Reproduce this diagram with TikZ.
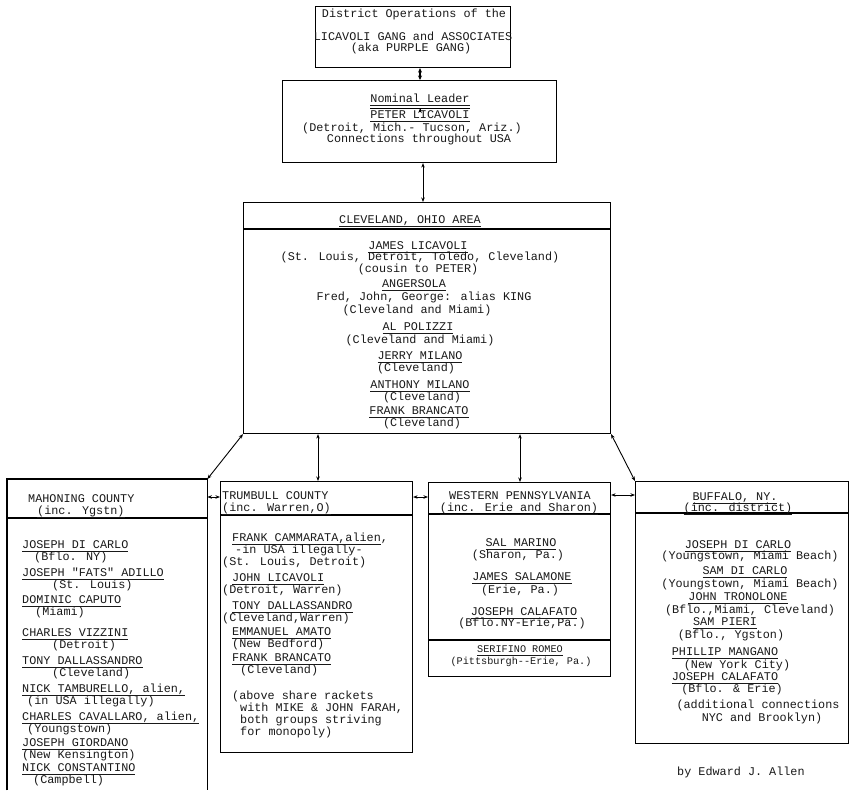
\documentclass[tikz,border=0pt]{standalone}
\usepackage{fontspec}
\setmainfont{Liberation Mono}[Ligatures=TeXOff]
\usetikzlibrary{arrows.meta}
\newcommand\ul[1]{\setbox0\hbox{#1}\rlap{\rule[-2.8pt]{\wd0}{0.7pt}}\box0}
\begin{document}
\begin{tikzpicture}[x=1pt,y=-1pt,
  frame/.style={draw=black, line width=1.1pt, inner sep=0pt, anchor=north west},
  hollow/.style={inner sep=0pt, anchor=north west},
  lbl/.style={inner sep=0pt, font=\fontsize{11.8}{12}\selectfont, text=black!90, anchor=mid},
  lw/.style={lbl, anchor=mid west},
  sml/.style={lbl, font=\fontsize{10.2}{11}\selectfont},
  edge/.style={line width=1.1pt},
  link/.style={line width=0.9pt, {Stealth[length=4.5pt,width=3.5pt]}-{Stealth[length=4.5pt,width=3.5pt]}},
  boldlink/.style={line width=1.6pt, {Stealth[length=4.5pt,width=4pt]}-{Stealth[length=4.5pt,width=4pt]}},
  onelink/.style={line width=0.9pt, -{Stealth[length=4.5pt,width=3.5pt]}}
]
\useasboundingbox[fill=white] (0,0) rectangle (851,790);

% ---- boxes ----
\node[frame, minimum width=195pt, minimum height=61pt] (top) at (315,6) {};
\node[frame, minimum width=274pt, minimum height=82pt] (leader) at (282,80) {};
\node[frame, minimum width=367pt, minimum height=231pt] (clev) at (243,202) {};
\node[hollow, minimum width=200pt, minimum height=311pt] (mah) at (7,479) {};
\node[frame, minimum width=192pt, minimum height=271pt] (trum) at (220,481) {};
\node[frame, minimum width=182pt, minimum height=194pt] (west) at (428,482) {};
\node[frame, minimum width=213pt, minimum height=262pt] (buff) at (635,481) {};

\draw[edge] (mah.south west) -- (mah.north west) -- (mah.north east) -- (mah.south east);

% dividers
\draw[edge] (clev.west |- 0,229) -- (clev.east |- 0,229);
\draw[edge] (mah.west |- 0,518) -- (mah.east |- 0,518);
\draw[edge] (trum.west |- 0,515) -- (trum.east |- 0,515);
\draw[edge] (west.west |- 0,514) -- (west.east |- 0,514);
\draw[edge] (west.west |- 0,640) -- (west.east |- 0,640);
\draw[edge] (buff.west |- 0,513) -- (buff.east |- 0,513);

% ---- top box ----
\node[lbl] (t1) at (414,15) {District Operations of the};
\node[lbl] (t2) at (413,38) {LICAVOLI GANG and ASSOCIATES};
\node[lbl] (t3) at (411,49) {(aka PURPLE GANG)};

% ---- leader ----
\node[lbl] (l1) at (420,100) {\ul{Nominal Leader}};
\node[lbl] (l2) at (420,116) {\ul{PETER LICAVOLI}};
\draw[line width=0.7pt] ([yshift=2pt]l2.north west) -- ([yshift=2pt]l2.north east);
\node[lbl] (l3) at (412,129) {(Detroit, Mich.- Tucson, Ariz.)};
\node[lbl] (l4) at (419,140) {Connections throughout USA};
\draw[onelink] ([yshift=-3pt]l1.south) -- ([yshift=2pt]l2.north);

% ---- Cleveland ----
\node[lbl] (c0) at (410,221) {\ul{CLEVELAND, OHIO AREA}};
\node[lbl] (c1) at (418,247) {\ul{JAMES LICAVOLI}};
\node[lbl] (c2) at (420,258) {(St. Louis, Detroit, Toledo, Cleveland)};
\node[lbl] (c3) at (418,270) {(cousin to PETER)};
\node[lbl] (c4) at (414,285) {\ul{ANGERSOLA}};
\node[lbl] (c5) at (424,298) {Fred, John, George: alias KING};
\node[lbl] (c6) at (417,311) {(Cleveland and Miami)};
\node[lbl] (c7) at (418,328) {\ul{AL POLIZZI}};
\node[lbl] (c8) at (420,341) {(Cleveland and Miami)};
\node[lbl] (c9) at (420,357) {\ul{JERRY MILANO}};
\node[lbl] (c10) at (416,369) {(Cleveland)};
\node[lbl] (c11) at (420,386) {\ul{ANTHONY MILANO}};
\node[lbl] (c12) at (422,398) {(Cleveland)};
\node[lbl] (c13) at (419,412) {\ul{FRANK BRANCATO}};
\node[lbl] (c14) at (422,424) {(Cleveland)};

% ---- Mahoning ----
\node[lw] (m0) at (28,500) {MAHONING COUNTY};
\node[lw] (m0b) at (37,512) {\ul{(inc. Ygstn)}};
\node[lw] (m1) at (22,546) {\ul{JOSEPH DI CARLO}};
\node[lw] (m2) at (34,558) {(Bflo. NY)};
\node[lw] (m3) at (22,574) {\ul{JOSEPH "FATS" ADILLO}};
\node[lw] (m4) at (52,586) {(St. Louis)};
\node[lw] (m5) at (22,601) {\ul{DOMINIC CAPUTO}};
\node[lw] (m6) at (35,613) {(Miami)};
\node[lw] (m7) at (22,634) {\ul{CHARLES VIZZINI}};
\node[lw] (m8) at (52,646) {(Detroit)};
\node[lw] (m9) at (22,662) {\ul{TONY DALLASSANDRO}};
\node[lw] (m10) at (52,674) {(Cleveland)};
\node[lw] (m11) at (22,690) {\ul{NICK TAMBURELLO, alien,}};
\node[lw] (m12) at (27,702) {(in USA illegally)};
\node[lw] (m13) at (22,718) {\ul{CHARLES CAVALLARO, alien,}};
\node[lw] (m14) at (27,730) {(Youngstown)};
\node[lw] (m15) at (22,744) {\ul{JOSEPH GIORDANO}};
\node[lw] (m16) at (22,756) {(New Kensington)};
\node[lw] (m17) at (22,769) {\ul{NICK CONSTANTINO}};
\node[lw] (m18) at (33,781) {(Campbell)};

% ---- Trumbull ----
\node[lw] (r0) at (222,497) {TRUMBULL COUNTY};
\node[lw] (r0b) at (222,509) {\ul{(inc. Warren,O)}};
\node[lw] (r1) at (232,539) {\ul{FRANK CAMMARATA,alien},};
\node[lw] (r2) at (235,551) {-in USA illegally-};
\node[lw] (r3) at (222,563) {(St. Louis, Detroit)};
\node[lw] (r4) at (232,579) {\ul{JOHN LICAVOLI}};
\node[lw] (r5) at (222,591) {(Detroit, Warren)};
\node[lw] (r6) at (232,607) {\ul{TONY DALLASSANDRO}};
\node[lw] (r7) at (222,619) {(Cleveland,Warren)};
\node[lw] (r8) at (232,633) {\ul{EMMANUEL AMATO}};
\node[lw] (r9) at (232,645) {(New Bedford)};
\node[lw] (r10) at (232,659) {\ul{FRANK BRANCATO}};
\node[lw] (r11) at (240,671) {(Cleveland)};
\node[lw] (r12) at (232,697) {(above share rackets};
\node[lw] (r13) at (240,709) {with MIKE \& JOHN FARAH,};
\node[lw] (r14) at (240,721) {both groups striving};
\node[lw] (r15) at (240,733) {for monopoly)};

% ---- Western Pennsylvania ----
\node[lbl] (w0) at (520,497) {WESTERN PENNSYLVANIA};
\node[lbl] (w0b) at (519,509) {\ul{(inc. Erie and Sharon)}};
\node[lbl] (w1) at (521,544) {\ul{SAL MARINO}};
\node[lbl] (w2) at (518,556) {(Sharon, Pa.)};
\node[lbl] (w3) at (522,578) {\ul{JAMES SALAMONE}};
\node[lbl] (w4) at (520,591) {(Erie, Pa.)};
\node[lbl] (w5) at (524,613) {\ul{JOSEPH CALAFATO}};
\node[lbl] (w6) at (522,624) {(Bflo.NY-Erie,Pa.)};
\node[sml] (w7) at (520,650) {\ul{SERIFINO ROMEO}};
\node[sml] (w8) at (521,662) {(Pittsburgh--Erie, Pa.)};

% ---- Buffalo ----
\node[lbl] (b0) at (735,498) {\ul{BUFFALO, NY.}};
\node[lbl] (b0b) at (738,509) {\ul{(inc. district)}};
\node[lbl] (b1) at (738,546) {\ul{JOSEPH DI CARLO}};
\node[lbl] (b2) at (750,557) {(Youngstown, Miami Beach)};
\node[lbl] (b3) at (745,572) {\ul{SAM DI CARLO}};
\node[lbl] (b4) at (750,585) {(Youngstown, Miami Beach)};
\node[lbl] (b5) at (738,598) {\ul{JOHN TRONOLONE}};
\node[lbl] (b6) at (750,611) {(Bflo.,Miami, Cleveland)};
\node[lbl] (b7) at (725,623) {\ul{SAM PIERI}};
\node[lbl] (b8) at (731,636) {(Bflo., Ygston)};
\node[lbl] (b9) at (725,653) {\ul{PHILLIP MANGANO}};
\node[lbl] (b10) at (737,666) {(New York City)};
\node[lbl] (b11) at (725,678) {\ul{JOSEPH CALAFATO}};
\node[lbl] (b12) at (732,690) {(Bflo. \& Erie)};
\node[lbl] (b13) at (758,706) {(additional connections};
\node[lbl] (b14) at (762,719) {NYC and Brooklyn)};

% ---- signature ----
\node[lw] (sig) at (677,773) {by  Edward J. Allen};

% ---- connectors ----
\draw[boldlink] (top.south -| 420,0) -- (leader.north -| 420,0);
\draw[link] (leader.south -| 423,0) -- (clev.north -| 423,0);
\draw[link] (clev.south west) -- (mah.north east);
\draw[link] (clev.south -| 318,0) -- (trum.north -| 318,0);
\draw[link] (clev.south -| 520,0) -- (west.north -| 520,0);
\draw[link] (clev.south east) -- (buff.north west);
\draw[link] (mah.east |- 0,497) -- (trum.west |- 0,497);
\draw[link] (trum.east |- 0,497) -- (west.west |- 0,497);
\draw[link] (west.east |- 0,495) -- (buff.west |- 0,495);
\end{tikzpicture}
\end{document}
